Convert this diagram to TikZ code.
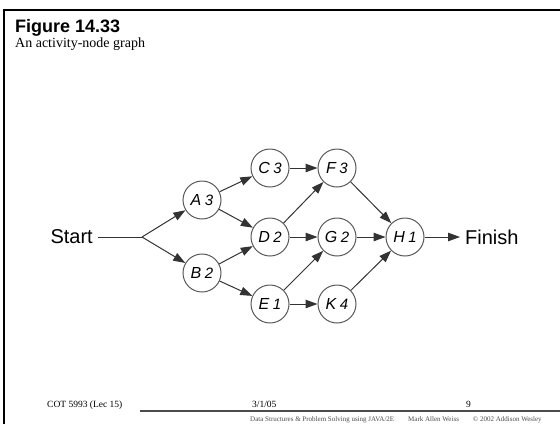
\documentclass[tikz,border=0pt]{standalone}
\usepackage{fontspec}
\setmainfont{Liberation Serif}
\setsansfont{Liberation Sans}
\usetikzlibrary{arrows.meta}

% activity label: letter, gap, duration
\newcommand{\actlabel}[2]{#1\hspace{0.22em}{\fontsize{15}{15}\selectfont #2}}

\begin{document}
\begin{tikzpicture}[x=1pt,y=-1pt,
  act/.style={circle,draw=black!65,line width=1pt,minimum size=38pt,inner sep=0pt,
    font=\sffamily\itshape\fontsize{16}{16}\selectfont},
  arr/.style={-{Triangle[length=12pt,width=8.5pt]},line width=1pt,draw=black!80},
  plain/.style={line width=1pt,draw=black!80},
  endlabel/.style={font=\sffamily\fontsize{20}{24}\selectfont,inner sep=0pt},
  foot/.style={anchor=base west,inner sep=0pt,font=\rmfamily\fontsize{9.5}{11}\selectfont}]
\useasboundingbox (0,0) rectangle (560,424);
\fill[white] (0,0) rectangle (560,424);

% slide frame
\draw[line width=2pt] (4,424) -- (4,10) -- (560,10);

% heading
\node[anchor=base west,inner sep=0pt,font=\sffamily\bfseries\fontsize{18}{20}\selectfont]
  (title) at (15,32) {Figure 14.33};
\node[anchor=base west,inner sep=0pt,font=\rmfamily\fontsize{14}{16}\selectfont]
  (subtitle) at (15,47) {An activity-node graph};

% activity nodes
\node[act] (A) at (202,200) {\actlabel{A}{3}};
\node[act] (B) at (202,273) {\actlabel{B}{2}};
\node[act] (C) at (270,168) {\actlabel{C}{3}};
\node[act] (D) at (270,237) {\actlabel{D}{2}};
\node[act] (E) at (270,304) {\actlabel{E}{1}};
\node[act] (F) at (337,168) {\actlabel{F}{3}};
\node[act] (G) at (337,237) {\actlabel{G}{2}};
\node[act] (K) at (337,304) {\actlabel{K}{4}};
\node[act] (H) at (405,237) {\actlabel{H}{1}};

\node[endlabel,anchor=east] (start) at (93,237) {Start};
\node[endlabel,anchor=west] (finish) at (465,237) {Finish};
\coordinate (br) at (142,237);

% connectors
\draw[plain,shorten <=5pt] (start.east) -- (br);
\draw[arr] (br) -- (A);
\draw[arr] (br) -- (B);
\draw[arr] (A) -- (C);
\draw[arr] (A) -- (D);
\draw[arr] (B) -- (D);
\draw[arr] (B) -- (E);
\draw[arr] (C) -- (F);
\draw[arr] (D) -- (F);
\draw[arr] (D) -- (G);
\draw[arr] (E) -- (G);
\draw[arr] (E) -- (K);
\draw[arr] (F) -- (H);
\draw[arr] (G) -- (H);
\draw[arr] (K) -- (H);
\draw[arr,shorten >=5pt] (H) -- (finish.west);

% footer
\node[foot] (course) at (47,407) {COT 5993 (Lec 15)};
\node[foot] (date) at (252,407) {3/1/05};
\node[foot] (page) at (466,407) {9};
\draw[line width=1.5pt,black!70] (140,411) -- (560,411);
\node[anchor=base west,inner sep=0pt,text=black!70,font=\rmfamily\fontsize{7}{8}\selectfont]
  (credit) at (250,421) {Data Structures \& Problem Solving using JAVA/2E\qquad Mark Allen Weiss\qquad \textcopyright{} 2002 Addison Wesley};
\end{tikzpicture}
\end{document}
